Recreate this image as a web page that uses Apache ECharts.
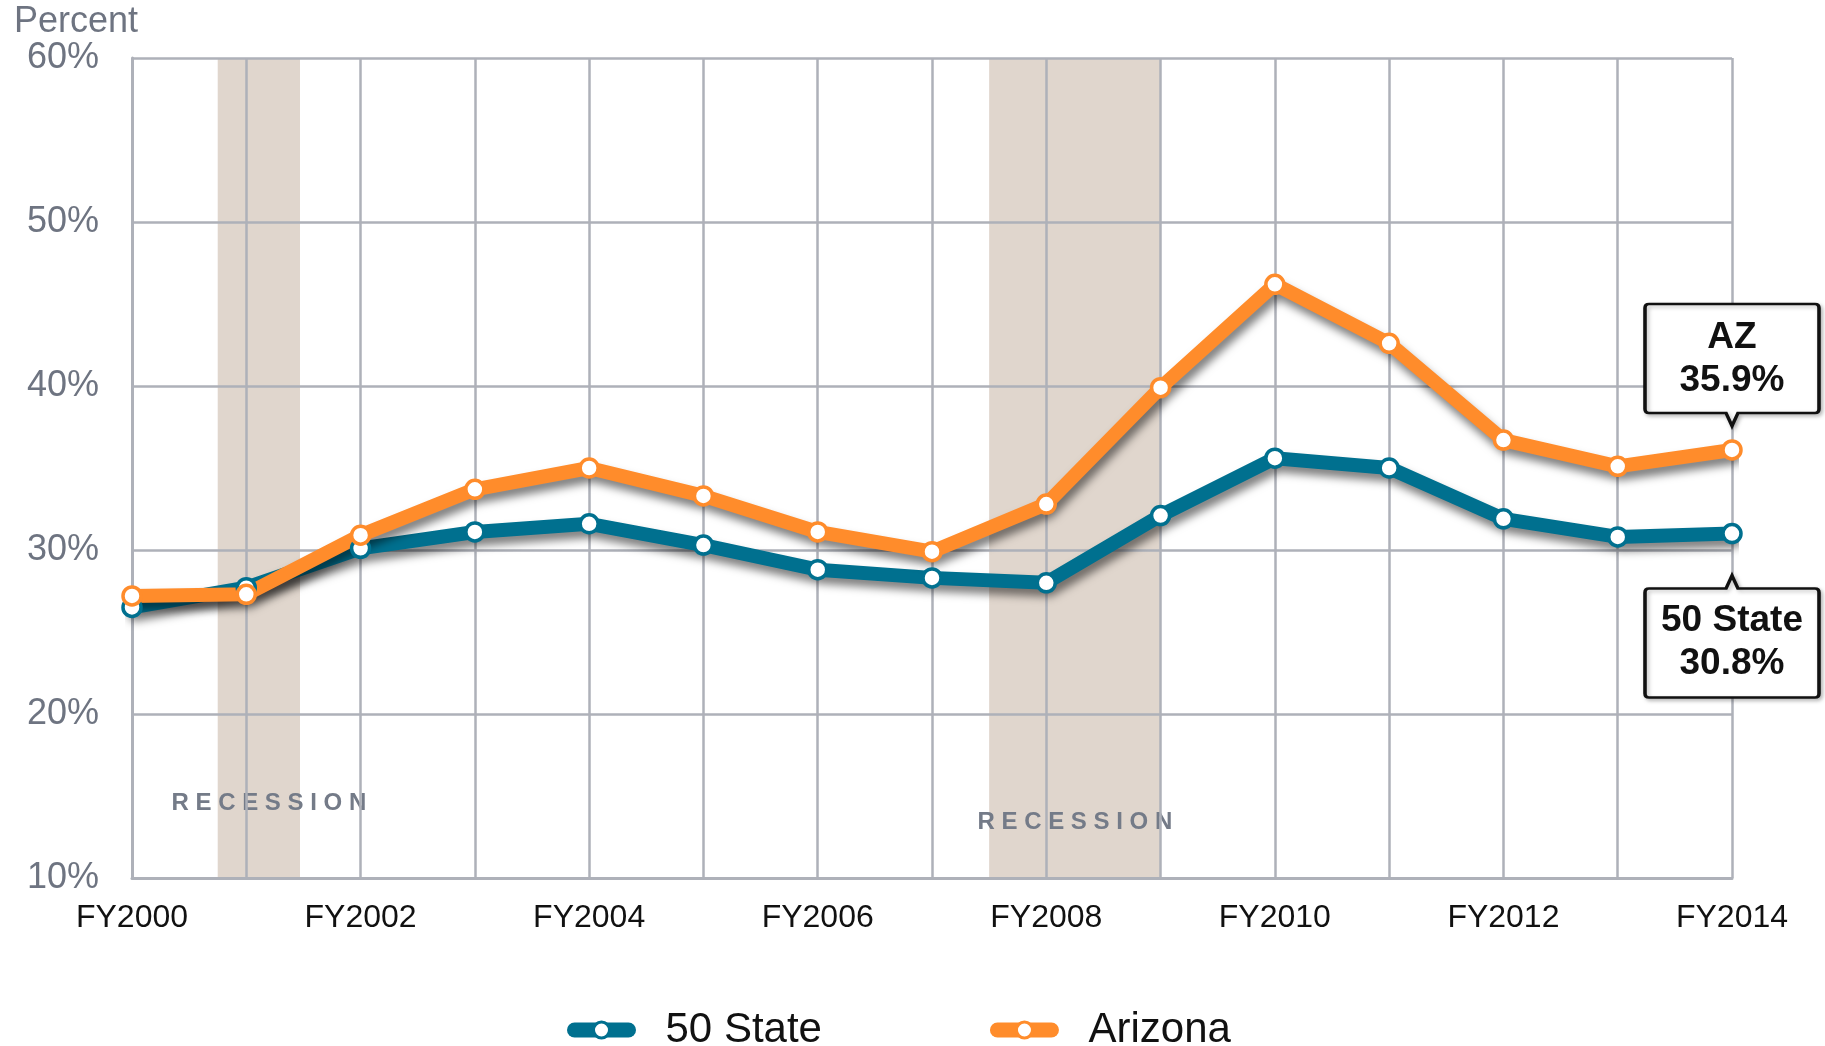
<!DOCTYPE html>
<html>
<head>
<meta charset="utf-8">
<title>Arizona vs 50 State</title>
<script src="https://cdn.jsdelivr.net/npm/echarts@6/dist/echarts.min.js"></script>
<style>
  html, body { margin: 0; padding: 0; background: #fff; }
  #chart { width: 1825px; height: 1046px; }
</style>
</head>
<body>
<div id="chart"></div>
<script>
  // data
  var years = [2000, 2001, 2002, 2003, 2004, 2005, 2006, 2007, 2008, 2009, 2010, 2011, 2012, 2013, 2014];
  var stateAvg = [26.5, 27.7, 30.1, 31.1, 31.6, 30.3, 28.8, 28.3, 28.0, 32.1, 35.6, 35.0, 31.9, 30.8, 31.0];
  var arizona = [27.2, 27.3, 30.9, 33.7, 35.0, 33.3, 31.1, 29.9, 32.8, 39.9, 46.2, 42.6, 36.7, 35.1, 36.1];
  var recessions = [[2000.75, 2001.47], [2007.5, 2009.0]];
  var yTicks = [10, 60, 10]; // min, max, interval
  var calloutAZ = ['AZ', '35.9%'];
  var callout50 = ['50 State', '30.8%'];

  var font = '"Liberation Sans", Arial, Helvetica, sans-serif';
  var teal = '#00708f';
  var orange = '#ff8c2b';
  var gridGray = '#aeb1b9';

  function pairs(vals) {
    return years.map(function (y, i) { return [y, vals[i]]; });
  }

  // speech bubble shapes (box + pointer)
  var bubbleDown = 'path://M4,0 L170,0 Q174,0 174,4 L174,105 Q174,109 170,109 L93,109 L87,122 L81,109 L4,109 Q0,109 0,105 L0,4 Q0,0 4,0 Z';
  var bubbleUp = 'path://M4,13 L81,13 L87,0 L93,13 L170,13 Q174,13 174,17 L174,118 Q174,122 170,122 L4,122 Q0,122 0,118 L0,17 Q0,13 4,13 Z';

  function callout(last, text, up) {
    return {
      symbol: up ? bubbleUp : bubbleDown,
      symbolSize: [174, 122],
      symbolKeepAspect: false,
      z: 6,
      itemStyle: {
        color: '#fff', borderColor: '#111', borderWidth: 3,
        shadowColor: 'rgba(0,0,0,0.25)', shadowBlur: 4, shadowOffsetX: 2, shadowOffsetY: 2
      },
      label: {
        show: true,
        position: 'inside',
        color: '#111',
        fontFamily: font,
        fontWeight: 'bold',
        fontSize: 37,
        lineHeight: 43
      },
      data: [{
        coord: last,
        symbolOffset: up ? [0, 103] : [0, -85],
        label: { formatter: text.join('\n'), offset: up ? [0, 6] : [0, -6] }
      }]
    };
  }

  var lineShadow = {
    shadowColor: 'rgba(0,0,0,0.5)', shadowBlur: 9, shadowOffsetX: 3, shadowOffsetY: 7
  };

  var option = {
    animation: false,
    textStyle: { fontFamily: font },
    grid: { left: 132, right: 93, top: 58, bottom: 168 },
    xAxis: {
      type: 'value',
      min: years[0],
      max: years[years.length - 1],
      interval: 1,
      z: 2,
      axisLine: { show: true, lineStyle: { color: gridGray, width: 3 } },
      axisTick: { show: false },
      splitLine: { show: true, lineStyle: { color: gridGray, width: 2.5 } },
      axisLabel: {
        color: '#111', fontSize: 32, margin: 24, fontFamily: font,
        showMinLabel: true, showMaxLabel: true,
        formatter: function (v) { return v % 2 === 0 ? 'FY' + v : ''; }
      }
    },
    yAxis: {
      type: 'value',
      min: yTicks[0],
      max: yTicks[1],
      interval: yTicks[2],
      z: 2,
      name: 'Percent',
      nameLocation: 'end',
      nameGap: 17,
      nameTextStyle: { color: '#6e7481', fontSize: 36, fontFamily: font, align: 'right', padding: [0, -6, 0, 0] },
      axisLine: { show: true, lineStyle: { color: gridGray, width: 3 } },
      axisTick: { show: false },
      splitLine: { show: true, lineStyle: { color: gridGray, width: 2.5 } },
      axisLabel: { color: '#6e7481', fontSize: 36, margin: 33, fontFamily: font, formatter: '{value}%' }
    },
    legend: {
      data: ['50 State', 'Arizona'],
      left: 562,
      top: 1004,
      itemWidth: 54,
      itemHeight: 20,
      itemGap: 168,
      textStyle: { color: '#111', fontSize: 42, fontFamily: font, padding: [0, 0, 0, 32] },
      lineStyle: { width: 15, cap: 'round', shadowBlur: 0, shadowOffsetX: 0, shadowOffsetY: 0 },
      itemStyle: { shadowBlur: 0, borderWidth: 3 }
    },
    series: [
      {
        name: 'Recession',
        type: 'line',
        data: [],
        clip: false,
        markArea: {
          silent: true,
          z: 1,
          itemStyle: { color: '#e0d6cd' },
          label: {
            show: true,
            position: 'insideBottom',
            color: '#747b88',
            fontFamily: font,
            fontWeight: 'bold',
            fontSize: 24
          },
          data: recessions.map(function (r, i) {
            return [
              {
                xAxis: r[0], yAxis: yTicks[1],
                label: {
                  formatter: 'R E C E S S I O N',
                  distance: i === 0 ? 63 : 44,
                  offset: i === 0 ? [10, 0] : [0, 0]
                }
              },
              { xAxis: r[1], yAxis: yTicks[0] - 0.3 }
            ];
          })
        }
      },
      {
        name: '50 State',
        type: 'line',
        z: 3,
        clip: false,
        data: pairs(stateAvg),
        symbol: 'circle',
        symbolSize: 18,
        showAllSymbol: true,
        lineStyle: Object.assign({ color: teal, width: 14, cap: 'round', join: 'round' }, lineShadow),
        itemStyle: { color: '#fff', borderColor: teal, borderWidth: 3.5 },
        markPoint: callout([years[14], stateAvg[14]], callout50, true)
      },
      {
        name: 'Arizona',
        type: 'line',
        z: 3,
        clip: false,
        data: pairs(arizona),
        symbol: 'circle',
        symbolSize: 18,
        showAllSymbol: true,
        lineStyle: Object.assign({ color: orange, width: 14, cap: 'round', join: 'round' }, lineShadow),
        itemStyle: { color: '#fff', borderColor: orange, borderWidth: 3.5 },
        markPoint: callout([years[14], arizona[14]], calloutAZ, false)
      }
    ]
  };

  var myChart = echarts.init(document.getElementById('chart'));
  myChart.setOption(option);
  window.addEventListener('resize', function () { myChart.resize(); });
</script>
</body>
</html>
